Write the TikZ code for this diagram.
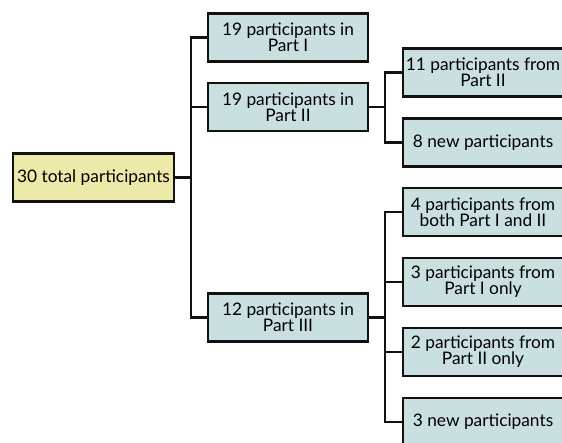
\documentclass[tikz,border=0pt]{standalone}
\usepackage{fontspec}
\setmainfont{Lato}
\usetikzlibrary{positioning}
\usepackage{xcolor}
\definecolor{BoxTeal}{HTML}{C9DFE0}
\definecolor{BoxSand}{HTML}{EDE9A8}
\definecolor{LineBlack}{HTML}{111111}
\tikzset{
    % Box styles - all sharp corners
    total/.style={
        rectangle,
        draw=LineBlack,
        fill=BoxSand,
        line width=2.2pt,
        minimum width=161pt,
        minimum height=48pt,
        inner xsep=2pt,
        align=center,
        font=\fontsize{17.3}{16}\selectfont
    },
    group/.style={
        rectangle,
        draw=LineBlack,
        fill=BoxTeal,
        line width=2.2pt,
        minimum width=160pt,
        minimum height=48pt,
        inner xsep=2pt,
        align=center,
        font=\fontsize{17.3}{16}\selectfont
    },
    % Connector style - elbow lines only
    link/.style={
        line width=2.2pt,
        draw=LineBlack
    }
}

\begin{document}
\begin{tikzpicture}[x=1pt, y=-1pt]
    \useasboundingbox (0,0) rectangle (562,442);

    \node[total] (all) at (93.5,177.5) {30 total participants};

    \node[group] (part1) at (288,37.5) {19 participants in\\Part I};
    \node[group] (part2) at (288,107) {19 participants in\\Part II};
    \node[group] (part3) at (288,317.5) {12 participants in\\Part III};

    \node[group] (p2old) at (483,72.5) {11 participants from\\Part II};
    \node[group] (p2new) at (483,142.5) {8 new participants};

    \node[group] (p3both) at (483,212) {4 participants from\\both Part I and II};
    \node[group] (p3one) at (483,282) {3 participants from\\Part I only};
    \node[group] (p3two) at (483,352) {2 participants from\\Part II only};
    \node[group] (p3new) at (483,422) {3 new participants};

    \coordinate (split0) at (191,177.5);
    \coordinate (split2) at (385,107);
    \coordinate (split3) at (385,317.5);

    \draw[link] (all) -- (split0);
    \draw[link] (split0) |- (part1);
    \draw[link] (split0) |- (part2);
    \draw[link] (split0) |- (part3);

    \draw[link] (part2) -- (split2);
    \draw[link] (split2) |- (p2old);
    \draw[link] (split2) |- (p2new);

    \draw[link] (part3) -- (split3);
    \draw[link] (split3) |- (p3both);
    \draw[link] (split3) |- (p3one);
    \draw[link] (split3) |- (p3two);
    \draw[link] (split3) |- (p3new);
\end{tikzpicture}
\end{document}
